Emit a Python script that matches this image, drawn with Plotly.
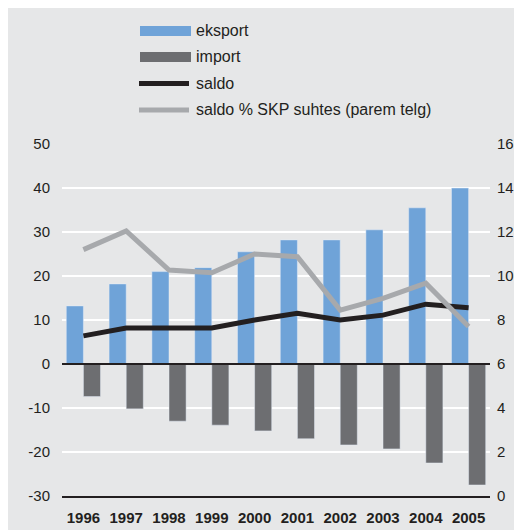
import plotly.graph_objects as go

years = ["1996", "1997", "1998", "1999", "2000", "2001", "2002", "2003", "2004", "2005"]
eksport = [13.2, 18.2, 21.0, 21.9, 25.5, 28.2, 28.2, 30.5, 35.5, 40.0]
import_ = [-7.4, -10.2, -13.0, -13.9, -15.2, -17.0, -18.4, -19.3, -22.5, -27.5]
saldo = [6.4, 8.2, 8.2, 8.2, 10.0, 11.5, 10.0, 11.1, 13.6, 12.8]
saldo_skp = [11.2, 12.05, 10.27, 10.15, 11.0, 10.88, 8.45, 8.98, 9.67, 7.7]

left_ticks = [-30, -20, -10, 0, 10, 20, 30, 40, 50]
left_labels = ["-30", "-20", "-10", "0", "10", "20", "30", "40", "50"]
right_ticks = [0, 2, 4, 6, 8, 10, 12, 14, 16]

names = ["eksport", "import", "saldo", "saldo % SKP suhtes (parem telg)"]

BLUE = "#6fa3d8"
DARKGREY = "#6d6e71"
BLACK = "#231f20"
GREY = "#a7a9ac"
BG = "#e6e7e8"
FONT = "Liberation Sans, Arial, sans-serif"

# screenshot: x shifted by the 8px body margin, y offset and squeezed a bit
X0, Y0, SY = 8, 11.5, 0.975
W, H = 522, 530
L, R, T, B = 54, 40, 136, 33
PW, PH = W - L - R, H - T - B


# screen pixel -> paper coords
def px(x):
    return (x - X0 - L) / PW


def py(y):
    return (H - B - (y - Y0) / SY) / PH


fig = go.Figure()
fig.add_trace(go.Bar(x=years, y=eksport, name=names[0], marker_color=BLUE))
fig.add_trace(go.Bar(x=years, y=import_, name=names[1], marker_color=DARKGREY))
fig.add_trace(go.Scatter(x=years, y=saldo, name=names[2], mode="lines",
                         line=dict(color=BLACK, width=5)))
fig.add_trace(go.Scatter(x=years, y=saldo_skp, name=names[3], mode="lines",
                         line=dict(color=GREY, width=5), yaxis="y2"))

shapes = [
    # zero line above bars
    dict(type="line", xref="paper", yref="y", x0=0, x1=1, y0=0, y1=0,
         line=dict(color=BLACK, width=2), layer="above"),
]

# hand-made legend, wide swatches like the original
annotations = []
rows = [31, 57, 83.5, 110]
for i, name in enumerate(names):
    yc = rows[i]
    if i < 2:
        shapes.append(dict(type="rect", xref="paper", yref="paper",
                           x0=px(140), x1=px(191), y0=py(yc + 5), y1=py(yc - 5),
                           fillcolor=[BLUE, DARKGREY][i], line_width=0))
    else:
        shapes.append(dict(type="line", xref="paper", yref="paper",
                           x0=px(139), x1=px(189), y0=py(yc), y1=py(yc),
                           line=dict(color=[BLACK, GREY][i - 2], width=5)))
    annotations.append(dict(text=name, xref="paper", yref="paper", x=px(194),
                            y=py(yc), xanchor="left", yanchor="middle",
                            showarrow=False, font=dict(size=16, color=BLACK)))

fig.update_layout(
    width=W, height=H,
    margin=dict(l=L, r=R, t=T, b=B),
    paper_bgcolor=BG,
    plot_bgcolor=BG,
    font=dict(family=FONT, size=15, color=BLACK),
    barmode="group",
    bargap=0.2,
    bargroupgap=0,
    showlegend=False,
    shapes=shapes,
    annotations=annotations,
    xaxis=dict(type="category", showgrid=False, showline=True, linecolor=BLACK,
               linewidth=2, ticks="outside", ticklen=7, tickcolor="rgba(0,0,0,0)",
               tickfont=dict(size=15, weight="bold")),
    yaxis=dict(range=[-30, 50], tickvals=left_ticks, ticktext=left_labels,
               showgrid=True, gridcolor="white", gridwidth=2, zeroline=False,
               ticks="outside", ticklen=8, tickcolor="rgba(0,0,0,0)"),
    yaxis2=dict(range=[0, 16], tickvals=right_ticks, overlaying="y", side="right",
                showgrid=False, zeroline=False,
                ticks="outside", ticklen=3, tickcolor="rgba(0,0,0,0)"),
)

fig.write_html("out.html")
